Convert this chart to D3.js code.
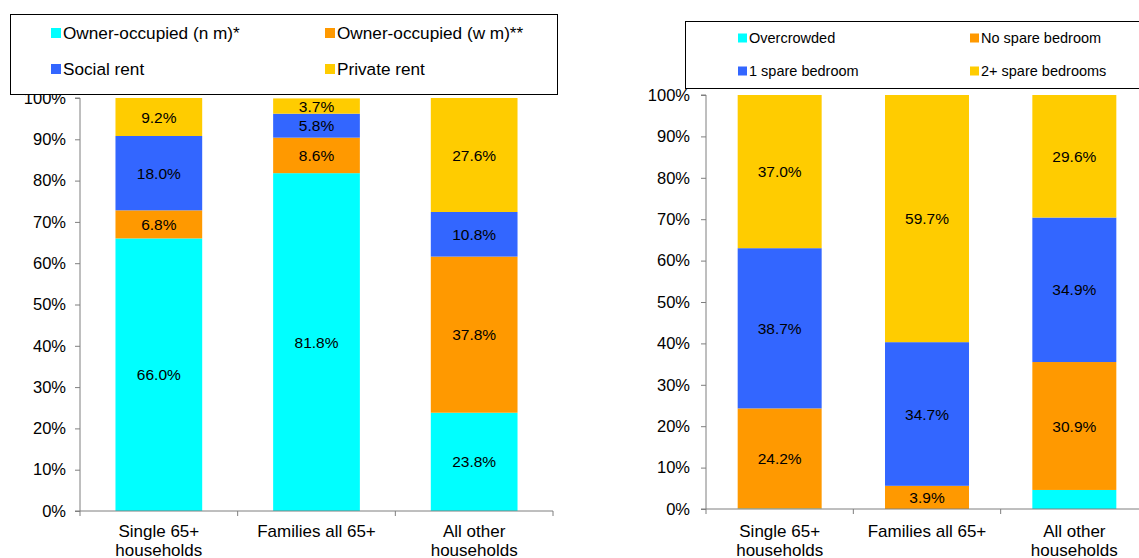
<!DOCTYPE html>
<html>
<head>
<meta charset="utf-8">
<script src="https://cdn.jsdelivr.net/npm/d3@7"></script>
<style>
  body { margin: 0; background: #fff; }
  svg { display: block; font-family: "Liberation Sans", Arial, sans-serif; }
  .domain, .tick line { stroke: #7f7f7f; }
</style>
</head>
<body>
<svg id="chart" width="1139" height="558"></svg>
<script>
// categories shared by both panels
var categories = [["Single 65+", "households"], ["Families all 65+"], ["All other", "households"]];
var yTicks = [0, 10, 20, 30, 40, 50, 60, 70, 80, 90, 100];

// left panel: tenure
var tenureNames = ["Owner-occupied (n m)*", "Owner-occupied (w m)**", "Social rent", "Private rent"];
var ownerNoMortgage = [66.0, 81.8, 23.8];
var ownerWithMortgage = [6.8, 8.6, 37.8];
var socialRent = [18.0, 5.8, 10.8];
var privateRent = [9.2, 3.7, 27.6];

// right panel: bedroom standard
var bedroomNames = ["Overcrowded", "No spare bedroom", "1 spare bedroom", "2+ spare bedrooms"];
var overcrowded = [0.1, 0, 4.6];
var noSpare = [24.2, 5.6, 30.9];
var noSpareLabels = ["24.2%", "3.9%", "30.9%"];   // printed labels differ from bar height for families
var oneSpare = [38.7, 34.7, 34.9];
var twoPlusSpare = [37.0, 59.7, 29.6];

var colors = ["#00ffff", "#ff9900", "#3366ff", "#ffcc00"];

var svg = d3.select("#chart");

function drawPanel(opt) {
    var g = svg.append("g");

    var x = d3.scaleBand()
        .domain(d3.range(categories.length))
        .range([opt.x0, opt.x1])
        .paddingInner(opt.pad)
        .paddingOuter(opt.pad / 2);

    var y = d3.scaleLinear().domain([0, 100]).range([opt.yBottom, opt.yTop]);

    // stacked segments
    opt.series.forEach(function(s, si) {
        var rows = s.values.map(function(v, i) {
            var base = 0;
            for (var k = 0; k < si; k++) base += opt.series[k].values[i];
            return {i: i, y0: base, y1: base + v, label: s.labels ? s.labels[i] : (s.showLabels ? d3.format(".1f")(v) + "%" : null)};
        });

        g.selectAll(null)
            .data(rows)
            .enter().append("rect")
            .attr("x", function(d) { return x(d.i); })
            .attr("width", x.bandwidth())
            .attr("y", function(d) { return y(d.y1); })
            .attr("height", function(d) { return y(d.y0) - y(d.y1); })
            .attr("fill", colors[si]);

        g.selectAll(null)
            .data(rows.filter(function(d) { return d.label; }))
            .enter().append("text")
            .attr("x", function(d) { return x(d.i) + x.bandwidth() / 2; })
            .attr("y", function(d) { return (y(d.y0) + y(d.y1)) / 2; })
            .attr("dy", "0.36em")
            .attr("text-anchor", "middle")
            .attr("font-size", 15.5)
            .attr("fill", "#000")
            .text(function(d) { return d.label; });
    });

    // y axis
    var yAxis = g.append("g")
        .attr("transform", "translate(" + opt.x0 + ",0)")
        .call(d3.axisLeft(y).tickValues(yTicks).tickSize(5).tickPadding(opt.tickPad)
            .tickFormat(function(d) { return d + "%"; }));
    yAxis.selectAll("text").attr("font-size", 16.5).attr("fill", "#000").attr("font-family", null);
    yAxis.select(".domain").attr("d", "M-5," + opt.yTop + "H0V" + opt.yBottom + "H-5");

    // x axis line and category separators
    g.append("line")
        .attr("x1", opt.x0).attr("x2", opt.x1)
        .attr("y1", opt.yBottom).attr("y2", opt.yBottom)
        .attr("stroke", "#7f7f7f");

    g.selectAll(null)
        .data(d3.range(categories.length + 1))
        .enter().append("line")
        .attr("x1", function(i) { return opt.x0 + i * x.step(); })
        .attr("x2", function(i) { return opt.x0 + i * x.step(); })
        .attr("y1", opt.yBottom).attr("y2", opt.yBottom + 5)
        .attr("stroke", "#7f7f7f");

    var cat = g.selectAll(null)
        .data(categories)
        .enter().append("text")
        .attr("text-anchor", "middle")
        .attr("font-size", 17)
        .attr("fill", "#000")
        .attr("transform", function(d, i) { return "translate(" + (x(i) + x.bandwidth() / 2) + ",537)"; });
    cat.selectAll("tspan")
        .data(function(d) { return d; })
        .enter().append("tspan")
        .attr("x", 0)
        .attr("y", function(d, j) { return j * 19; })
        .text(function(d) { return d; });

    // legend
    var lg = opt.legend;
    g.append("rect")
        .attr("x", lg.x).attr("y", lg.y)
        .attr("width", lg.w).attr("height", lg.h)
        .attr("fill", "#fff").attr("stroke", "#000");

    var item = g.selectAll(null)
        .data(opt.names)
        .enter().append("g")
        .attr("transform", function(d, i) {
            return "translate(" + lg.cols[i % 2] + "," + lg.rows[Math.floor(i / 2)] + ")";
        });
    item.append("rect")
        .attr("x", 0).attr("y", -lg.sw / 2)
        .attr("width", lg.sw).attr("height", lg.sw)
        .attr("fill", function(d, i) { return colors[i]; });
    item.append("text")
        .attr("x", lg.sw + 2)
        .attr("dy", "0.35em")
        .attr("font-size", lg.fs)
        .attr("fill", "#000")
        .text(function(d) { return d; });
}

drawPanel({
    x0: 80, x1: 553, yTop: 98, yBottom: 511, pad: 0.45, tickPad: 9,
    names: tenureNames,
    series: [
        {values: ownerNoMortgage, showLabels: true},
        {values: ownerWithMortgage, showLabels: true},
        {values: socialRent, showLabels: true},
        {values: privateRent, showLabels: true}
    ],
    legend: {x: 10.5, y: 14.5, w: 547, h: 80, cols: [51, 325], rows: [33, 69], sw: 10, fs: 17.2}
});

drawPanel({
    x0: 706, x1: 1148, yTop: 95, yBottom: 509, pad: 0.43, tickPad: 11,
    names: bedroomNames,
    series: [
        {values: overcrowded, showLabels: false},
        {values: noSpare, labels: noSpareLabels},
        {values: oneSpare, showLabels: true},
        {values: twoPlusSpare, showLabels: true}
    ],
    legend: {x: 685.5, y: 21.5, w: 470, h: 67, cols: [738, 970], rows: [38, 71], sw: 9, fs: 14.5}
});
</script>
</body>
</html>
